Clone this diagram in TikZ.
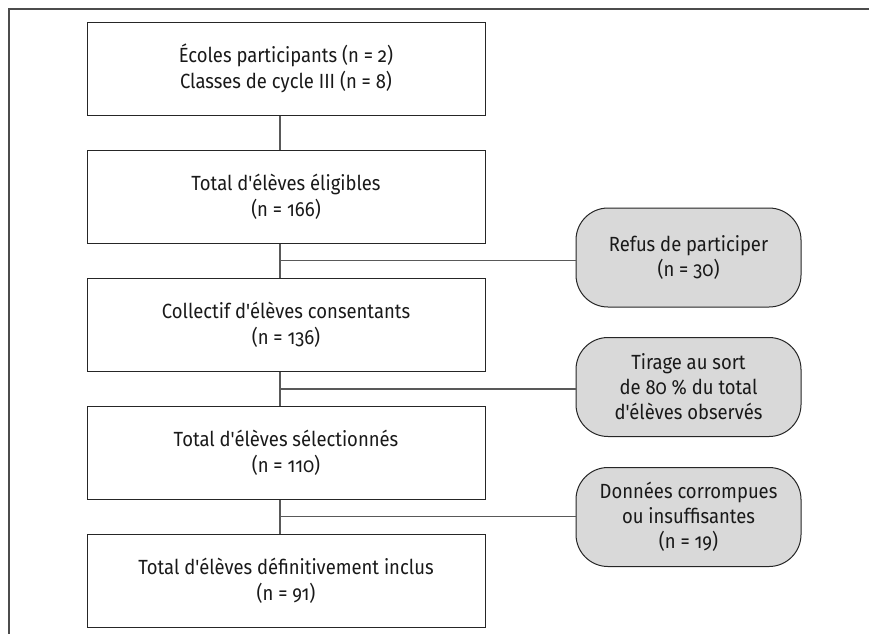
\documentclass[tikz,border=0pt]{standalone}
\usepackage{fontspec}
\setmainfont{Fira Sans}[Numbers=OldStyle,Ligatures=TeXOff,FakeStretch=0.9]
\usetikzlibrary{calc}
\begin{document}
\begin{tikzpicture}[x=1pt,y=-1pt,
  mainbox/.style={draw=black!85,line width=1pt,minimum width=398pt,minimum height=93pt,align=center,font=\fontsize{20.5}{26}\selectfont,text=black!90,inner sep=0pt},
  sidebox/.style={draw=black!85,fill=black!15,line width=1pt,rounded corners=32pt,minimum width=225pt,minimum height=99pt,align=center,font=\fontsize{20.5}{25}\selectfont,text=black!90,inner sep=0pt},
  conn/.style={draw=black!65,line width=1.2pt},
  frame/.style={draw=black!70,line width=1.5pt}]
\useasboundingbox (0,0) rectangle (869,633);
\draw[frame] (9,640) -- (9,9) -- (875,9);
\node[mainbox] (b1) at (286,68.5) {Écoles participants (n = 2)\\Classes de cycle III (n = 8)};
\node[mainbox] (b2) at (286,196.5) {Total d'élèves éligibles\\(n = 166)};
\node[mainbox] (b3) at (286,325) {Collectif d'élèves consentants\\(n = 136)};
\node[mainbox] (b4) at (286,453) {Total d'élèves sélectionnés\\(n = 110)};
\node[mainbox] (b5) at (286,580.5) {Total d'élèves définitivement inclus\\(n = 91)};
\node[sidebox] (r1) at (688.5,257.5) {Refus de participer\\(n = 30)};
\node[sidebox] (r2) at (688.5,387) {Tirage au sort\\de 80 \% du total\\d'élèves observés};
\node[sidebox] (r3) at (688.5,517) {Données corrompues\\ou insuffisantes\\(n = 19)};
\foreach \a/\b in {b1/b2,b2/b3,b3/b4,b4/b5}
  \draw[conn] ([xshift=-6pt]\a.south) -- ([xshift=-6pt]\b.north);
\coordinate (m1) at ($([xshift=-6pt]b2.south)!0.5!([xshift=-6pt]b3.north)$);
\coordinate (m2) at ($([xshift=-6pt]b3.south)!0.5!([xshift=-6pt]b4.north)$);
\coordinate (m3) at ($([xshift=-6pt]b4.south)!0.5!([xshift=-6pt]b5.north)$);
\draw[conn] (m1) -- (m1 -| r1.west);
\draw[conn] (m2) -- (m2 -| r2.west);
\draw[conn] (m3) -- (m3 -| r3.west);
\end{tikzpicture}
\end{document}
